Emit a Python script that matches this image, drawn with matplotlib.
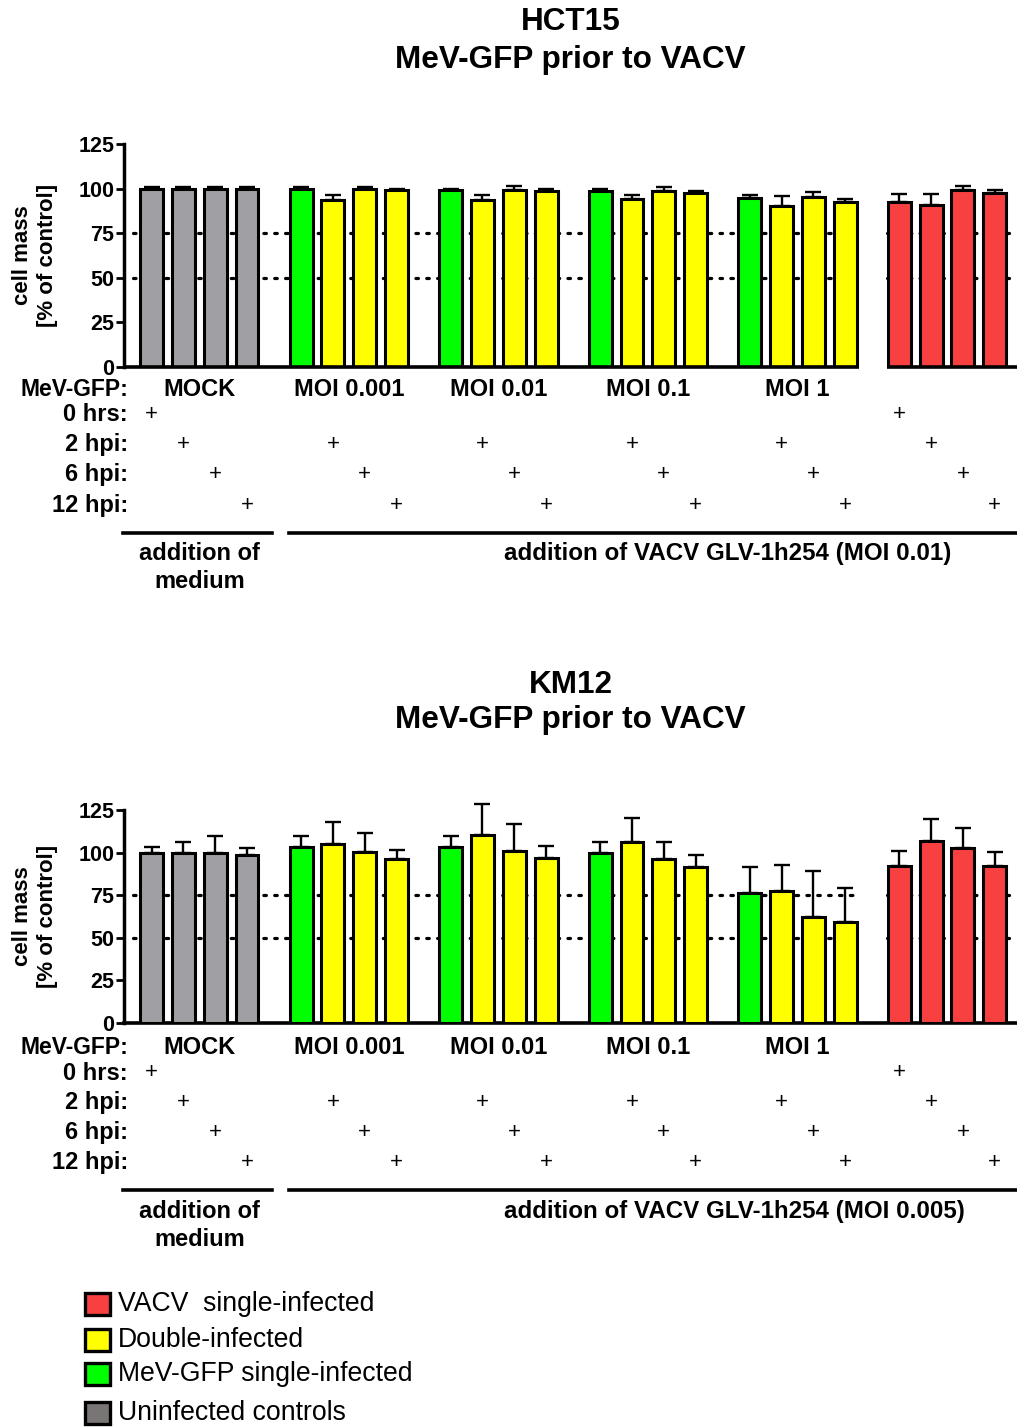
import matplotlib
matplotlib.use("Agg")
import matplotlib.pyplot as plt
import numpy as np
from matplotlib.transforms import blended_transform_factory
from matplotlib.patches import Rectangle
from matplotlib.lines import Line2D

plt.rcParams['font.family'] = ['Liberation Sans', 'DejaVu Sans']

# ---- data ----
group_labels = ["MOCK", "MOI 0.001", "MOI 0.01", "MOI 0.1", "MOI 1", ""]
time_labels = ["0 hrs:", "2 hpi:", "6 hpi:", "12 hpi:"]
# which time row gets a "+" for every bar (-1 = none)
time_index = [0, 1, 2, 3,
              -1, 1, 2, 3,
              -1, 1, 2, 3,
              -1, 1, 2, 3,
              -1, 1, 2, 3,
              0, 1, 2, 3]
# bar category: 0 uninfected, 1 MeV-GFP single, 2 double, 3 VACV single
bar_kind = [0, 0, 0, 0,
            1, 2, 2, 2,
            1, 2, 2, 2,
            1, 2, 2, 2,
            1, 2, 2, 2,
            3, 3, 3, 3]

hct15_mean = [100, 100, 100, 100,
              100, 93.5, 100, 99.2,
              99, 93.5, 99, 98.5,
              98.5, 94, 98.5, 97.5,
              95, 90.5, 95.5, 92.5,
              92.5, 91, 99, 97.5]
hct15_err = [0.8, 1, 1, 0.8,
             0.8, 3, 1, 0.7,
             0.8, 3, 2.5, 1.5,
             1.5, 2.5, 2.5, 1,
             1.5, 5.5, 2.5, 1.5,
             4.5, 6, 2.5, 1.5]

km12_mean = [100, 100, 100, 98.5,
             103.5, 105, 100.5, 96,
             103.5, 110.5, 101, 97,
             100, 106.5, 96, 91.5,
             76.5, 77.5, 62, 59,
             92, 107, 102.5, 92]
km12_err = [3, 6, 10, 4,
            6.5, 13, 11, 5.5,
            6.5, 18, 16, 7,
            6, 14, 10, 7,
            15, 15, 27, 20,
            9, 13, 12, 8.5]

yticks = [0, 25, 50, 75, 100, 125]
kind_colors = ["#A0A0A4", "#00FF00", "#FFFF00", "#F84040"]
legend_labels = ["VACV  single-infected", "Double-infected",
                 "MeV-GFP single-infected", "Uninfected controls"]
legend_colors = ["#F84040", "#FFFF00", "#00FF00", "#7A7575"]

W, H = 1017, 1428
fig = plt.figure(figsize=(W / 100, H / 100), dpi=100)


def fx(x):
    return x / W


def fy(y):
    return 1 - y / H


xpos = np.array([g * 4.7 + i for g in range(6) for i in range(4)])
xmin, xmax = -0.865, 27.2
bar_w = 0.72
gap_end = 4 * 4.7 + 3 + 0.45          # right end of the MOI 1 group
red_start = 5 * 4.7 - bar_w / 2 - 0.02  # left edge of the VACV group


def panel(top_px, bot_px, means, errs, title, vacv_moi, rows_px, broken_axis):
    ax = fig.add_axes([fx(124), fy(bot_px), fx(1017 - 124), (bot_px - top_px) / H])
    colors = [kind_colors[k] for k in bar_kind]
    # dotted reference lines at 50 % and 75 %
    for yv in (50, 75):
        for a, b in ((-0.58, gap_end - 0.1), (red_start, xmax)):
            ax.plot([a, b], [yv, yv], color="black", lw=2.3,
                    linestyle=(0, (0.8, 2.6)), dash_capstyle="round", zorder=1)
    ax.errorbar(xpos, means, yerr=[np.zeros(len(errs)), errs], fmt="none",
                ecolor="black", elinewidth=1.7, capsize=5.5, capthick=1.7,
                zorder=2, clip_on=False)
    ax.bar(xpos, means, width=bar_w, color=colors, edgecolor="black",
           linewidth=2.2, zorder=3)
    ax.set_xlim(xmin, xmax)
    ax.set_ylim(0, 125)
    ax.set_xticks([])
    ax.set_yticks(yticks)
    ax.set_yticklabels([str(t) for t in yticks], fontsize=15.5, fontweight="bold")
    ax.tick_params(axis="y", direction="out", length=6, width=2, pad=1)
    for s in ("top", "right"):
        ax.spines[s].set_visible(False)
    ax.spines["left"].set_linewidth(2.5)
    if broken_axis:
        ax.spines["bottom"].set_visible(False)
        for a, b in ((xmin, gap_end), (red_start, xmax)):
            ax.plot([a, b], [0, 0], color="black", lw=2.6, zorder=4,
                    clip_on=False, solid_capstyle="butt")
    else:
        ax.spines["bottom"].set_linewidth(2.6)

    cx = fx((124 + 1017) / 2)
    fig.text(cx, fy(title[1]), title[0], ha="center", va="center",
             fontsize=22.7, fontweight="bold")
    fig.text(cx, fy(title[2]), "MeV-GFP prior to VACV", ha="center",
             va="center", fontsize=22.7, fontweight="bold")

    fig.text(fx(35), fy((top_px + bot_px) / 2), "cell mass\n[% of control]",
             rotation=90, ha="center", va="center", fontsize=16,
             fontweight="bold", linespacing=1.2)

    tr = blended_transform_factory(ax.transData, fig.transFigure)
    # row labels
    fig.text(fx(128), fy(rows_px[0]), "MeV-GFP:", ha="right", va="center",
             fontsize=16.5, fontweight="bold")
    for r, lab in enumerate(time_labels):
        fig.text(fx(128), fy(rows_px[r + 1]), lab, ha="right", va="center",
                 fontsize=17, fontweight="bold")
    for g, lab in enumerate(group_labels):
        if lab:
            ax.text(g * 4.7 + 1.5, fy(rows_px[0]), lab, transform=tr,
                    ha="center", va="center", fontsize=17, fontweight="bold")
    for xv, ti in zip(xpos, time_index):
        if ti >= 0:
            ax.text(xv, fy(rows_px[ti + 1]), "+", transform=tr, ha="center",
                    va="center", fontsize=16)
    # treatment brackets
    line_y = fy(rows_px[5])
    for a, b in ((-0.9, 3.8), (4.32, xmax)):
        ax.add_line(Line2D([a, b], [line_y, line_y], transform=tr,
                           color="black", lw=2.6, clip_on=False))
    ax.text(1.5, fy(rows_px[6]), "addition of\nmedium", transform=tr,
            ha="center", va="top", fontsize=17, fontweight="bold",
            linespacing=1.25)
    fig.text(fx(504), fy(rows_px[6]),
             "addition of VACV GLV-1h254 (MOI %s)" % vacv_moi,
             ha="left", va="top", fontsize=17.4, fontweight="bold")
    return ax


panel(144, 367, hct15_mean, hct15_err, ("HCT15", 22, 60), "0.01",
      [390, 414, 444, 475, 505, 533, 542], True)
panel(810, 1023, km12_mean, km12_err, ("KM12", 685, 720), "0.005",
      [1047, 1073, 1103, 1133, 1163, 1190, 1200], False)

# legend
leg_rows = [1304, 1340, 1374, 1413]
for yc, lab, col in zip(leg_rows, legend_labels, legend_colors):
    fig.add_artist(Rectangle((fx(85), fy(yc + 11)), fx(25), 22 / H,
                             transform=fig.transFigure, facecolor=col,
                             edgecolor="black", linewidth=2.4))
    fig.text(fx(118), fy(yc), lab, ha="left", va="center", fontsize=19.2)

fig.savefig("out.png", dpi=100)
